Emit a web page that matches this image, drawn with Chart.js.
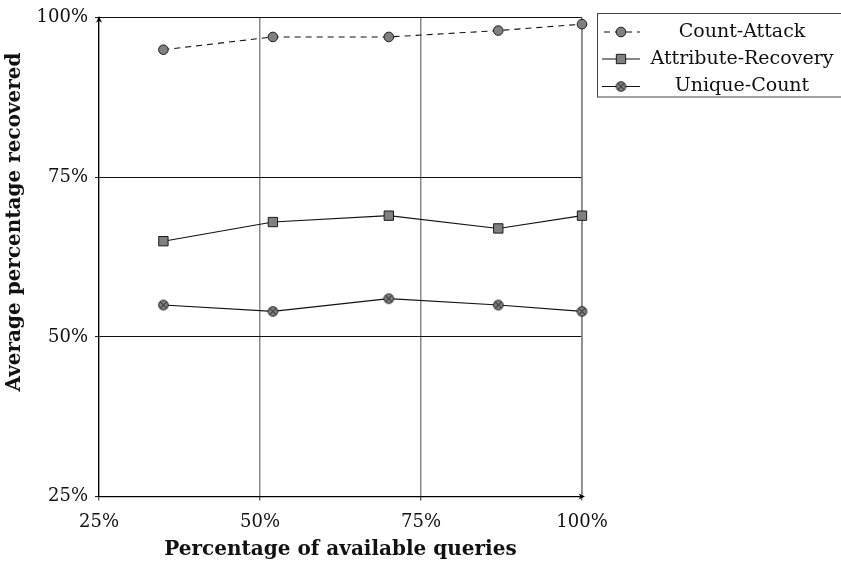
<!DOCTYPE html>
<html><head><meta charset="utf-8">
<script src="https://cdn.jsdelivr.net/npm/chart.js@4"></script>
<style>html,body{margin:0;padding:0;background:#fff}#wrap{width:841px;height:565px}</style>
</head><body><div id="wrap"><canvas id="c" width="841" height="565"></canvas></div>
<script>
const queryPct = [35, 52, 70, 87, 100];
const countAttack = [95, 97, 97, 98, 99];
const attributeRecovery = [65, 68, 69, 67, 69];
const uniqueCount = [55, 54, 56, 55, 54];
const seriesNames = ['Count-Attack', 'Attribute-Recovery', 'Unique-Count'];
const tickValues = [25, 50, 75, 100];
const xTitle = 'Percentage of available queries';
const yTitle = 'Average percentage recovered';

const FONT = '"DejaVu Serif", "Liberation Serif", serif';
const MARK_FILL = '#808080';
const MARK_EDGE = '#1a1a1a';

// circle with an x inside (otimes marker)
function makeOtimes(r) {
  const s = Math.ceil(2 * r + 3);
  const cv = document.createElement('canvas');
  cv.width = s; cv.height = s;
  const g = cv.getContext('2d');
  const c = s / 2;
  g.beginPath(); g.arc(c, c, r, 0, Math.PI * 2);
  g.fillStyle = MARK_FILL; g.fill();
  g.lineWidth = 1; g.strokeStyle = MARK_EDGE; g.stroke();
  const d = r * Math.SQRT1_2;
  g.beginPath();
  g.moveTo(c - d, c - d); g.lineTo(c + d, c + d);
  g.moveTo(c + d, c - d); g.lineTo(c - d, c + d);
  g.stroke();
  return cv;
}
const otimes = makeOtimes(4.8);

function pts(ys) { return queryPct.map((x, i) => ({ x: x, y: ys[i] })); }

const datasets = [
  { label: seriesNames[0], data: pts(countAttack), borderColor: '#111', borderWidth: 1.1, borderDash: [6, 5], clip: false,
    pointStyle: 'circle', pointRadius: 4.8, pointBackgroundColor: MARK_FILL, pointBorderColor: MARK_EDGE, pointBorderWidth: 1 },
  { label: seriesNames[1], data: pts(attributeRecovery), borderColor: '#111', borderWidth: 1.1, clip: false,
    pointStyle: 'rect', pointRadius: 6.6, pointBackgroundColor: MARK_FILL, pointBorderColor: MARK_EDGE, pointBorderWidth: 1 },
  { label: seriesNames[2], data: pts(uniqueCount), borderColor: '#111', borderWidth: 1.1, clip: false,
    pointStyle: otimes, pointRadius: 4.8, pointBackgroundColor: MARK_FILL, pointBorderColor: MARK_EDGE, pointBorderWidth: 1 }
];

const decor = {
  id: 'decor',
  beforeDatasetsDraw(chart) {
    // make sure the vertical grid line at the last tick is drawn
    const ctx = chart.ctx, a = chart.chartArea, xs = chart.scales.x;
    const px = Math.round(xs.getPixelForValue(tickValues[tickValues.length - 1]));
    ctx.save();
    ctx.strokeStyle = '#8a8a8a'; ctx.lineWidth = 1.5;
    ctx.beginPath(); ctx.moveTo(px, a.top); ctx.lineTo(px, a.bottom); ctx.stroke();
    ctx.restore();
  },
  afterDraw(chart) {
    const ctx = chart.ctx;
    const a = chart.chartArea;
    ctx.save();
    // axis arrows
    ctx.fillStyle = '#000'; ctx.strokeStyle = '#000'; ctx.lineWidth = 1.2;
    ctx.beginPath(); ctx.moveTo(a.left, a.top + 1); ctx.lineTo(a.left, a.top - 1); ctx.stroke();
    ctx.beginPath();
    ctx.moveTo(a.left, a.top - 1.5); ctx.lineTo(a.left - 3, a.top + 5); ctx.lineTo(a.left, a.top + 3); ctx.lineTo(a.left + 3, a.top + 5); ctx.closePath(); ctx.fill();
    ctx.beginPath(); ctx.moveTo(a.right - 2, a.bottom); ctx.lineTo(a.right + 2, a.bottom); ctx.stroke();
    ctx.beginPath();
    ctx.moveTo(a.right + 3, a.bottom); ctx.lineTo(a.right - 3.5, a.bottom - 3); ctx.lineTo(a.right - 1.5, a.bottom); ctx.lineTo(a.right - 3.5, a.bottom + 3); ctx.closePath(); ctx.fill();

    // axis titles
    ctx.fillStyle = '#111';
    ctx.font = 'bold 20px ' + FONT;
    ctx.textAlign = 'center'; ctx.textBaseline = 'middle';
    ctx.fillText(xTitle, (a.left + a.right) / 2, 550);
    ctx.save();
    ctx.translate(15, 222);
    ctx.rotate(-Math.PI / 2);
    ctx.fillText(yTitle, 0, 0);
    ctx.restore();

    // legend
    const bx = 597.5, by = 13.5, bw = 260, bh = 83.5;
    ctx.strokeStyle = '#444'; ctx.lineWidth = 1;
    ctx.strokeRect(bx, by, bw, bh);
    const rows = [32, 59, 86.5];
    chart.data.datasets.forEach((ds, i) => {
      const y = rows[i];
      ctx.strokeStyle = ds.borderColor; ctx.lineWidth = ds.borderWidth;
      ctx.setLineDash(ds.borderDash || []);
      ctx.lineDashOffset = ds.borderDash ? -2 : 0;
      ctx.beginPath(); ctx.moveTo(602, y); ctx.lineTo(640, y); ctx.stroke();
      ctx.setLineDash([]);
      ctx.fillStyle = ds.pointBackgroundColor; ctx.strokeStyle = ds.pointBorderColor; ctx.lineWidth = ds.pointBorderWidth;
      Chart.helpers.drawPoint(ctx, { pointStyle: ds.pointStyle, radius: ds.pointRadius, rotation: 0, borderWidth: ds.pointBorderWidth }, 621, y);
      ctx.fillStyle = '#111';
      ctx.font = '19px ' + FONT;
      ctx.textAlign = 'center'; ctx.textBaseline = 'middle';
      ctx.fillText(ds.label, 742, y);
    });
    ctx.restore();
  }
};

new Chart(document.getElementById('c'), {
  type: 'line',
  data: { datasets: datasets },
  options: {
    responsive: false,
    animation: false,
    events: [],
    layout: { padding: { left: 0, top: 13.5, right: 259, bottom: 0 } },
    plugins: { legend: { display: false }, tooltip: { enabled: false } },
    scales: {
      x: {
        type: 'linear', min: 25, max: 100,
        afterBuildTicks: s => { s.ticks = tickValues.map(v => ({ value: v })); },
        afterFit: s => { s.height = 68.5; },
        ticks: { callback: v => v + '%', color: '#111', font: { family: FONT, size: 18 }, padding: 11, maxRotation: 0 },
        grid: { color: '#8a8a8a', lineWidth: 1.5, tickLength: 4, tickColor: '#222', tickWidth: 1 },
        border: { color: '#000', width: 1.2 },
        title: { display: false, text: xTitle }
      },
      y: {
        type: 'linear', min: 25, max: 100,
        afterBuildTicks: s => { s.ticks = tickValues.map(v => ({ value: v })); },
        afterFit: s => { s.width = 99; },
        ticks: { callback: v => v + '%', color: '#111', font: { family: FONT, size: 18 }, padding: 7 },
        grid: { color: '#111', lineWidth: 1.1, tickLength: 4, tickColor: '#222' },
        border: { color: '#000', width: 1.2 },
        title: { display: false, text: yTitle }
      }
    }
  },
  plugins: [decor]
});
</script>
</body></html>
